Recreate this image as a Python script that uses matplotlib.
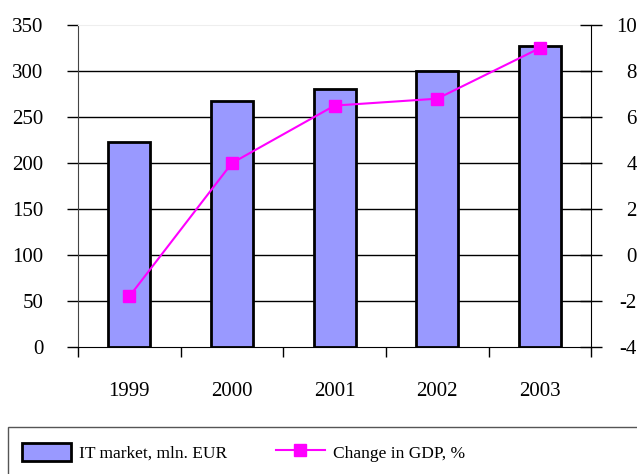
import numpy as np
import matplotlib.pyplot as plt
from matplotlib.patches import Rectangle
from matplotlib.ticker import FixedLocator

# Chart data
years = ['1999', '2000', '2001', '2002', '2003']
it_market = [223, 268, 281, 300, 327]      # mln. EUR (left axis)
gdp_change = [-1.8, 4.0, 6.5, 6.8, 9.0]     # % (right axis)
left_ticks = [0, 50, 100, 150, 200, 250, 300, 350]
right_ticks = [-4, -2, 0, 2, 4, 6, 8, 10]

plt.rcParams['font.family'] = ['Liberation Serif', 'DejaVu Serif']
plt.rcParams['axes.unicode_minus'] = False

bar_color = '#9999FF'
line_color = '#FF00FF'
fs = 15
fs_leg = 12.5

fig = plt.figure(figsize=(6.37, 4.74), dpi=100)
ax = fig.add_axes([0.1225, 0.268, 0.8055, 0.679])

x = np.arange(len(years))
ax.bar(x, it_market, width=0.41, color=bar_color, edgecolor='black',
       linewidth=2, zorder=3, label='IT market, mln. EUR')

ax.set_xlim(-0.5, len(years) - 0.5)
ax.set_ylim(left_ticks[0], left_ticks[-1])
ax.set_yticks(left_ticks)
ax.tick_params(axis='y', direction='out', length=8, width=1, pad=17,
               labelsize=fs)

# category boundary ticks, labels at centres
ax.xaxis.set_major_locator(FixedLocator(np.arange(-0.5, len(years), 1.0)))
ax.set_xticklabels([])
ax.xaxis.set_minor_locator(FixedLocator(x))
ax.set_xticklabels(years, minor=True)
ax.tick_params(axis='x', which='major', direction='out', length=7, width=1)
ax.tick_params(axis='x', which='minor', length=0, pad=25, labelsize=fs)

# horizontal grid
for v in left_ticks[1:-1]:
    ax.axhline(v, color='black', linewidth=1, zorder=1)

ax.spines['top'].set_color('#eeeeee')
ax.spines['right'].set_visible(False)
ax.spines['left'].set_color('#444444')
ax.spines['bottom'].set_color('black')

ax2 = ax.twinx()
ax2.plot(x, gdp_change, color=line_color, linewidth=1.5, marker='s',
         markersize=9, markerfacecolor=line_color, markeredgecolor=line_color,
         zorder=4, label='Change in GDP, %')
ax2.set_ylim(right_ticks[0], right_ticks[-1])
ax2.set_yticks(right_ticks)
ax2.tick_params(axis='y', direction='inout', length=16, width=1, pad=25,
                labelsize=fs)
for lab in ax2.get_yticklabels():
    lab.set_horizontalalignment('right')
for s in ['top', 'left', 'bottom']:
    ax2.spines[s].set_visible(False)
ax2.spines['right'].set_color('black')

# legend box (runs off the bottom/right edge like the original)
fig.patches.append(Rectangle((8 / 637, -0.05), 1.0, 1 - 427 / 474 + 0.05,
                             transform=fig.transFigure, fill=False,
                             edgecolor='#555555', linewidth=1))
h1, l1 = ax.get_legend_handles_labels()
h2, l2 = ax2.get_legend_handles_labels()
fig.legend(h1 + h2, l1 + l2, loc='center left', bbox_to_anchor=(0.0345, 0.046),
           ncol=2, frameon=False, fontsize=fs_leg, handlelength=2.8,
           handleheight=1.2, columnspacing=2.8, handletextpad=0.5,
           borderpad=0, borderaxespad=0)

fig.savefig('out.png', dpi=100)
